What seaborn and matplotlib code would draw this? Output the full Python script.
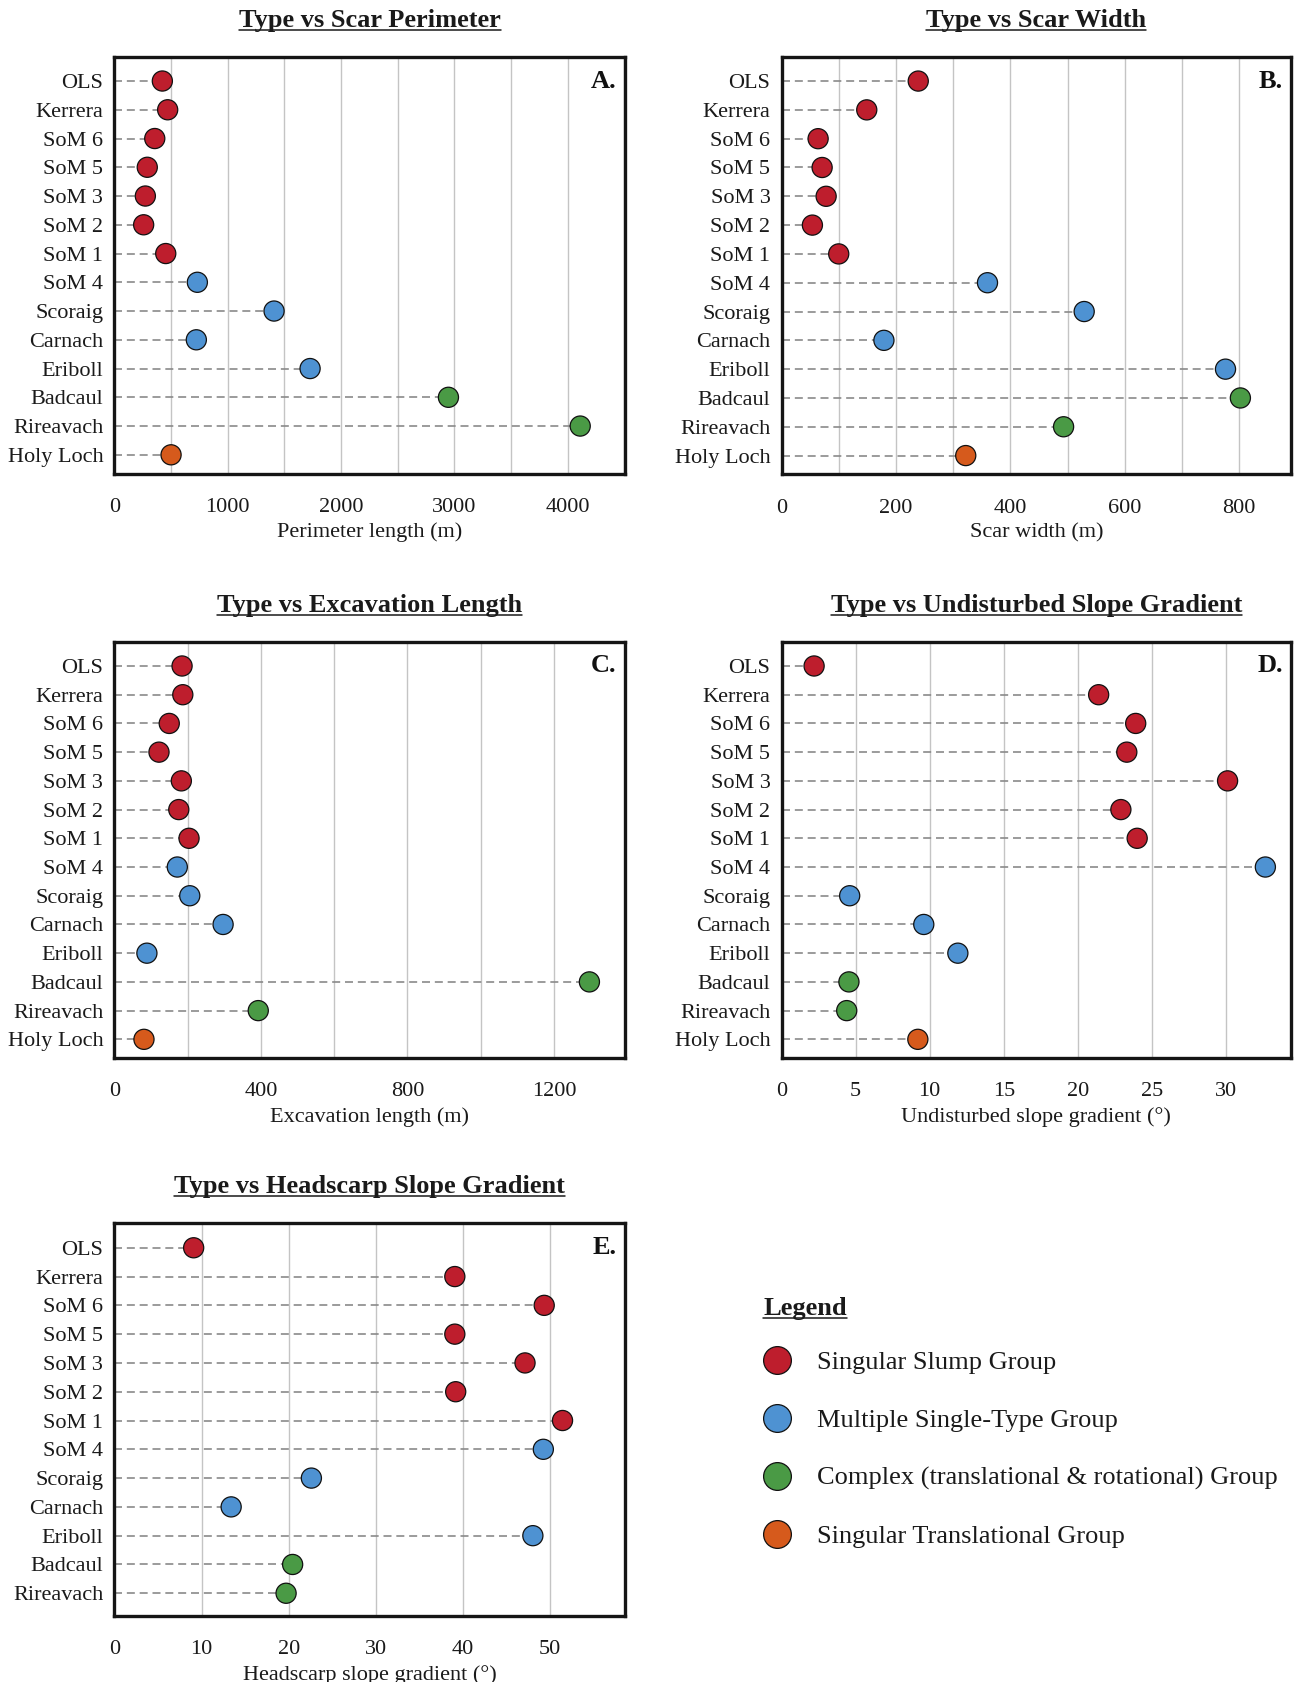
import numpy as np
import pandas as pd
import matplotlib
matplotlib.use("Agg")
import matplotlib.pyplot as plt
from matplotlib.lines import Line2D
from matplotlib.ticker import FixedLocator, MultipleLocator, NullFormatter
import seaborn as sns

# ---------------- data ----------------
sites = ["OLS", "Kerrera", "SoM 6", "SoM 5", "SoM 3", "SoM 2", "SoM 1",
         "SoM 4", "Scoraig", "Carnach", "Eriboll", "Badcaul", "Rireavach", "Holy Loch"]
groups = (["Singular Slump Group"] * 7
          + ["Multiple Single-Type Group"] * 4
          + ["Complex (translational & rotational) Group"] * 2
          + ["Singular Translational Group"])
group_order = ["Singular Slump Group", "Multiple Single-Type Group",
               "Complex (translational & rotational) Group", "Singular Translational Group"]
group_colors = ["#BE1E2D", "#4E92D2", "#4A9A45", "#D65A1C"]

perimeter = [424, 471, 357, 291, 274, 259, 454, 733, 1410, 724, 1728, 2949, 4112, 501]
scar_width = [239, 149, 64, 71, 78, 54, 100, 360, 529, 179, 776, 802, 493, 322]
excavation = [185, 187, 150, 122, 183, 176, 204, 172, 206, 297, 89, 1297, 393, 81]
undisturbed = [2.2, 21.4, 23.9, 23.3, 30.1, 22.9, 24.0, 32.65, 4.6, 9.6, 11.9, 4.55, 4.4, 9.2]
headscarp = [9.1, 39.05, 49.3, 39.05, 47.1, 39.15, 51.4, 49.2, 22.6, 13.4, 48.0, 20.45, 19.7]  # no Holy Loch

titles = ["Type vs Scar Perimeter", "Type vs Scar Width", "Type vs Excavation Length",
          "Type vs Undisturbed Slope Gradient", "Type vs Headscarp Slope Gradient"]
xlabels = ["Perimeter length (m)", "Scar width (m)", "Excavation length (m)",
           "Undisturbed slope gradient (°)", "Headscarp slope gradient (°)"]
letters = ["A.", "B.", "C.", "D.", "E."]
xlims = [(0, 4510), (0, 891), (0, 1395), (0, 34.4), (0, 58.6)]
xticks = [[0, 1000, 2000, 3000, 4000], [0, 200, 400, 600, 800], [0, 400, 800, 1200],
          [0, 5, 10, 15, 20, 25, 30], [0, 10, 20, 30, 40, 50]]
grid_steps = [500, 100, 200, 5, 10]
series = [perimeter, scar_width, excavation, undisturbed, headscarp]

# ---------------- style ----------------
sns.set_style("white")
plt.rcParams["font.family"] = ["Liberation Serif", "DejaVu Serif"]

W, H = 1298, 1682
fig = plt.figure(figsize=(W / 100, H / 100), dpi=100)
palette = dict(zip(group_order, group_colors))
TXT = "#1a1a1a"

# axes rectangles in pixels: left, top, right, bottom
rects = [(114.3, 57.3, 625.3, 473.5), (781.5, 57.3, 1291.3, 474.3),
         (114.3, 642.3, 625.3, 1058.0), (781.5, 642.3, 1291.3, 1058.0),
         (114.3, 1223.3, 625.3, 1616.0)]

title_artists = []
for i in range(5):
    l, t, r, b = rects[i]
    ax = fig.add_axes([l / W, 1 - b / H, (r - l) / W, (b - t) / H])
    vals = series[i]
    n = len(vals)
    df = pd.DataFrame({"site": sites[:n], "group": groups[:n], "value": vals,
                       "pos": np.arange(n)})
    ax.hlines(df["pos"], 0, df["value"], colors="#8a8a8a", linewidth=1.2,
              linestyles=(0, (4.8, 2.9)), zorder=2)
    sns.scatterplot(data=df, x="value", y="pos", hue="group", palette=palette,
                    s=210, edgecolor="#111111", linewidth=0.9, legend=False,
                    ax=ax, zorder=3)
    ax.set_xlim(*xlims[i])
    if n == 14:
        ax.set_ylim(n - 1 + 0.65, -0.825)
    else:
        ax.set_ylim(n - 1 + 0.79, -0.85)
    ax.set_yticks(np.arange(n))
    ax.set_yticklabels(df["site"])
    ax.xaxis.set_major_locator(FixedLocator(xticks[i]))
    ax.xaxis.set_minor_locator(MultipleLocator(grid_steps[i]))
    ax.xaxis.set_minor_formatter(NullFormatter())
    ax.grid(True, axis="x", which="both", color="#c4c4c4", linewidth=1.0, zorder=0)
    ax.grid(False, axis="y")
    ax.set_axisbelow(True)
    ax.tick_params(axis="x", which="both", length=0, pad=17.5, labelsize=16, colors=TXT)
    ax.tick_params(axis="y", length=0, pad=8, labelsize=16, colors=TXT)
    ax.set_xlabel(xlabels[i], fontsize=16, labelpad=4, color=TXT)
    ax.set_ylabel("")
    for sp in ax.spines.values():
        sp.set_visible(True)
        sp.set_linewidth(2.4)
        sp.set_color("#151515")
    ttl = ax.set_title(titles[i], fontsize=19, fontweight="bold", pad=22, color=TXT)
    title_artists.append(ttl)
    ax.text(0.983, 0, letters[i], transform=ax.get_yaxis_transform(),
            ha="right", va="center", fontsize=19, fontweight="bold", color="#111111")

# legend
handles = [Line2D([0], [0], marker="o", linestyle="", markerfacecolor=c,
                  markeredgecolor="#111111", markeredgewidth=0.9, markersize=20)
           for c in group_colors]
leg = fig.legend(handles, group_order, loc="upper left",
                 bbox_to_anchor=(764 / W, 1 - 1351 / H), frameon=False,
                 fontsize=19, labelspacing=1.3, handlelength=1.0,
                 handletextpad=1.015, borderpad=0, borderaxespad=0)
for txt in leg.get_texts():
    txt.set_color(TXT)
leg_title = fig.text(763.3 / W, 1 - 1315 / H, "Legend", ha="left", va="baseline",
                     fontsize=19, fontweight="bold", color=TXT)
title_artists.append(leg_title)

# underline titles
fig.canvas.draw()
renderer = fig.canvas.get_renderer()
inv = fig.transFigure.inverted()
for ta in title_artists:
    bb = ta.get_window_extent(renderer)
    fs_px = ta.get_fontsize() * 100 / 72
    y = bb.y0 + 0.08 * fs_px
    (x0, y0), (x1, _) = inv.transform([(bb.x0, y), (bb.x1, y)])
    fig.add_artist(Line2D([x0, x1], [y0, y0], transform=fig.transFigure,
                          color=TXT, linewidth=1.1))

fig.savefig("out.png", dpi=100)
